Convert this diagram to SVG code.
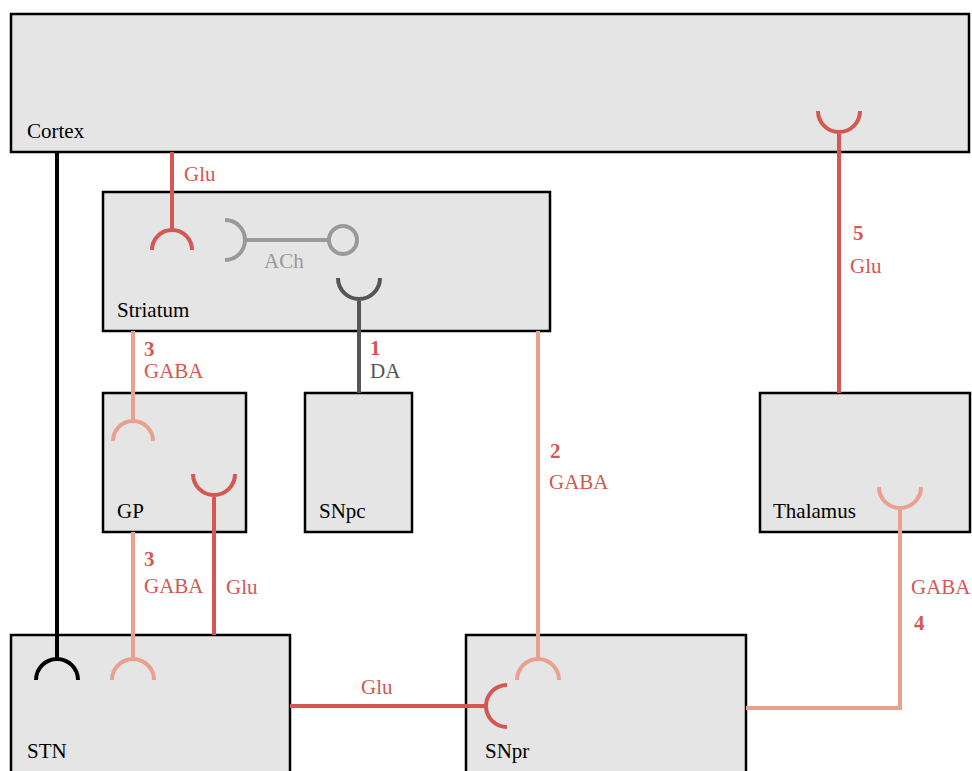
<svg xmlns="http://www.w3.org/2000/svg" width="972" height="771" viewBox="0 0 972 771">
<style>
.node{fill:#e5e5e5;stroke:#000;stroke-width:2.5}
text{font-family:'Liberation Serif','Times New Roman',Times,serif;font-size:21px}
.nl{fill:#000}
.cl{fill:#d45753}
.num{font-weight:bold}
.c{fill:none;stroke-width:4}
.glu{stroke:#d45753}
.gaba{stroke:#e9a08e}
.da{stroke:#555}
.ach{stroke:#999}
.blk{stroke:#000}
</style>
<rect width="972" height="771" fill="#fff"/>
<g id="Cortex"><rect class="node" x="11" y="14" width="958" height="138"/><text class="nl" x="27" y="138" font-family="Liberation Serif, serif">Cortex</text></g>
<g id="Striatum"><rect class="node" x="103" y="192" width="447" height="139"/><text class="nl" x="117" y="317" font-family="Liberation Serif, serif">Striatum</text></g>
<g id="GP"><rect class="node" x="103" y="393" width="143" height="139"/><text class="nl" x="117" y="518" font-family="Liberation Serif, serif">GP</text></g>
<g id="SNpc"><rect class="node" x="305" y="393" width="107" height="139"/><text class="nl" x="319" y="518" font-family="Liberation Serif, serif">SNpc</text></g>
<g id="Thalamus"><rect class="node" x="760" y="393" width="210" height="139"/><text class="nl" x="773" y="518" font-family="Liberation Serif, serif">Thalamus</text></g>
<g id="STN"><rect class="node" x="11" y="635" width="279" height="140"/><text class="nl" x="27" y="758" font-family="Liberation Serif, serif">STN</text></g>
<g id="SNpr"><rect class="node" x="466" y="635" width="280" height="140"/><text class="nl" x="485" y="758" font-family="Liberation Serif, serif">SNpr</text></g>
<g id="connectors">
<path class="c glu" d="M172,152 V230 M152,250 A20,20 0 0 1 192,250"/>
<text class="cl" x="184" y="181">Glu</text>
<path class="c ach" d="M225,220 A20,20 0 0 1 225,260 M245,240 H329"/>
<circle class="c ach" cx="343" cy="240" r="14"/>
<text x="264" y="268" fill="#999">ACh</text>
<path class="c da" d="M359,393 V299 M338,278 A21,21 0 0 0 380,278"/>
<text class="cl num" x="370" y="355">1</text>
<text x="370" y="378" fill="#555">DA</text>
<path class="c gaba" d="M133,331 V421 M113,441 A20,20 0 0 1 153,441"/>
<text class="cl num" x="144" y="356">3</text>
<text class="cl" x="144" y="378">GABA</text>
<path class="c glu" d="M214,635 V495 M193,474 A21,21 0 0 0 235,474"/>
<text class="cl" x="226" y="594">Glu</text>
<path class="c gaba" d="M133,532 V659 M112,680 A21,21 0 0 1 154,680"/>
<text class="cl num" x="144" y="566">3</text>
<text class="cl" x="144" y="593">GABA</text>
<path class="c blk" d="M57,152 V659 M36,680 A21,21 0 0 1 78,680"/>
<path class="c glu" d="M290,706 H486 M507,685 A21,21 0 0 0 507,727"/>
<text class="cl" x="361" y="694">Glu</text>
<path class="c gaba" d="M538,331 V659 M517,680 A21,21 0 0 1 559,680"/>
<text class="cl num" x="550" y="458">2</text>
<text class="cl" x="549" y="489">GABA</text>
<path class="c gaba" d="M746,708 H900 V508 M879,487 A21,21 0 0 0 921,487"/>
<text class="cl" x="911" y="594">GABA</text>
<text class="cl num" x="914" y="630">4</text>
<path class="c glu" d="M839,393 V132 M818,111 A21,21 0 0 0 860,111"/>
<text class="cl num" x="853" y="240">5</text>
<text class="cl" x="850" y="273">Glu</text>
</g>
</svg>
